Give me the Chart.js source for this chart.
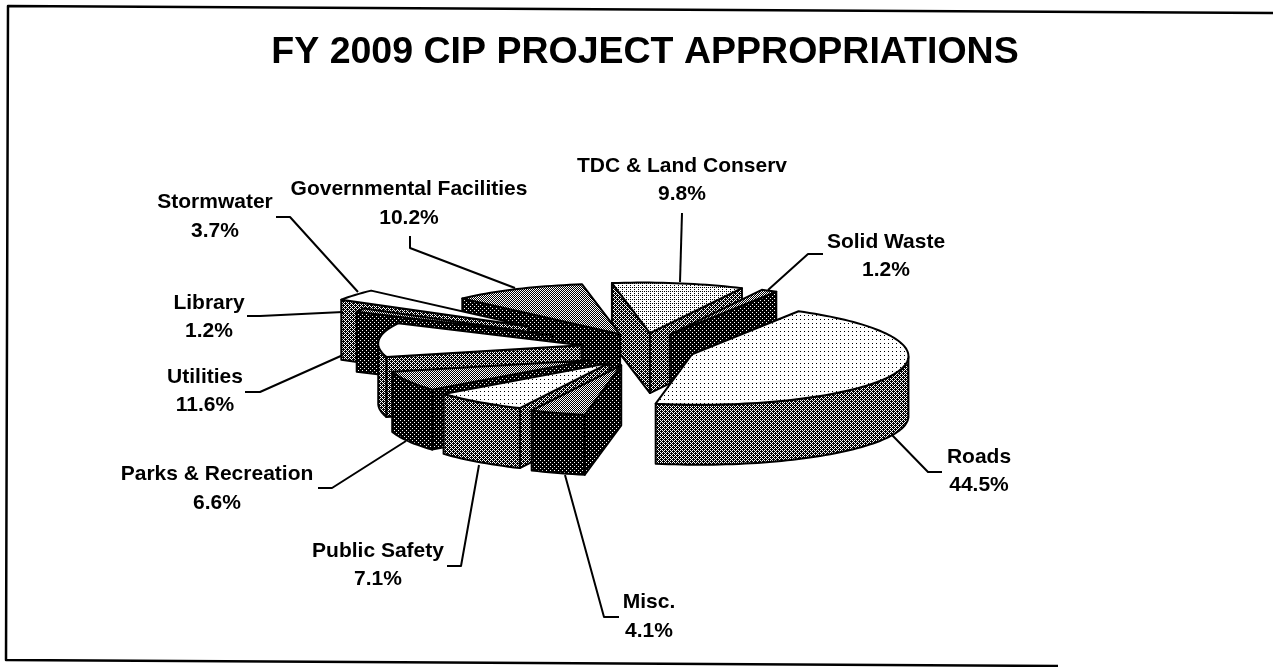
<!DOCTYPE html>
<html lang="en">
<head>
    <meta charset="UTF-8">
    <title>FY 2009 CIP Project Appropriations</title>
    <script src="https://cdn.jsdelivr.net/npm/chart.js@4.4.2/dist/chart.umd.min.js"></script>
    <style>
        html, body { margin: 0; background: #fff; overflow: hidden; }
        canvas { display: block; }
    </style>
</head>
<body>
    <canvas id="pie" width="1273" height="667"></canvas>

    <script>
        // --- Data ---
        const chartTitle = 'FY 2009 CIP PROJECT APPROPRIATIONS';
        const categories = ['TDC & Land Conserv', 'Solid Waste', 'Roads', 'Misc.', 'Public Safety',
            'Parks & Recreation', 'Utilities', 'Library', 'Stormwater', 'Governmental Facilities'];
        const appropriations = [9.8, 1.2, 44.5, 4.1, 7.1, 6.6, 11.6, 1.2, 3.7, 10.2];

        // --- Look of the slices (share of white in the dither) ---
        const topShade = [0.81, 0.5, 0.88, 0.5, 0.88, 0.5, 1, 0.5, 1, 0.5];
        const wallShade = [0.375, 0.125, 0.375, 0.125, 0.375, 0.125, 0.375, 0.125, 0.375, 0.125];

        // --- Fake 3D: the library draws a flat pie, this squashes and skews it ---
        const pieRadius = 200;
        const pieCentre = { x: 642, y: 347 };
        const skew = { a: 1.065, b: -0.035, c: 0.19, d: 0.25 };
        const wallHeight = 60;
        // per slice pull-out, perspective size and screen nudge
        const explode = [56, 56, 56, 56, 56, 56, 56, 94, 130, 56];
        const perspective = [1, 1, 1, 1, 1, 0.95, 0.94, 1, 1, 1];
        const nudge = [[0, 0], [0, 0], [-7, 2], [-3, 5], [4, 5], [1, 7], [0, 0], [0, 0], [0, 0], [7, 0]];

        // --- Callouts: [centre x, first line y, second line y] and leader polyline ---
        const labelSpots = [[682, 166, 194], [886, 242, 270], [979, 457, 485], [649, 602, 631], [378, 551, 579],
            [217, 474, 503], [205, 377, 405], [209, 303, 331], [215, 202, 231], [409, 189, 218]];
        const leaders = [
            [[682, 213], [680, 282]],
            [[823, 254], [808, 254], [768, 290]],
            [[942, 472], [928, 472], [892, 435]],
            [[619, 617], [604, 617], [565, 475]],
            [[447, 566], [461, 566], [479, 465]],
            [[318, 488], [332, 488], [406, 441]],
            [[245, 392], [260, 392], [343, 355]],
            [[247, 316], [260, 316], [343, 312]],
            [[276, 217], [290, 217], [358, 292]],
            [[410, 236], [410, 248], [515, 288]]
        ];
        const frame = [[1273, 13], [8, 6], [6, 660], [1058, 666]];

        const font = '"Liberation Sans", Arial, sans-serif';

        // 4x4 ordered dither, gives the scanned halftone look
        function dither(level) {
            const bayer = [0, 8, 2, 10, 12, 4, 14, 6, 3, 11, 1, 9, 15, 7, 13, 5];
            const tile = document.createElement('canvas');
            tile.width = tile.height = 4;
            const t = tile.getContext('2d');
            t.fillStyle = '#fff';
            t.fillRect(0, 0, 4, 4);
            t.fillStyle = '#000';
            bayer.forEach((v, i) => {
                if (v >= level * 16) t.fillRect(i % 4, Math.floor(i / 4), 1, 1);
            });
            return t.createPattern(tile, 'repeat');
        }

        const topPatterns = topShade.map(dither);
        const wallPatterns = wallShade.map(dither);

        // Slice offset in flat pie space, along its middle angle
        function sliceOffset(arc, i) {
            const mid = (arc.startAngle + arc.endAngle) / 2;
            return { u: Math.cos(mid) * explode[i], v: Math.sin(mid) * explode[i] };
        }

        function project(u, v, i) {
            return {
                x: pieCentre.x + skew.a * u + skew.c * v + nudge[i][0],
                y: pieCentre.y + skew.b * u + skew.d * v + nudge[i][1]
            };
        }

        function sliceOutline(arc, i) {
            const off = sliceOffset(arc, i);
            const apex = project(off.u, off.v, i);
            const rim = [];
            const radius = arc.outerRadius * perspective[i];
            const steps = Math.max(2, Math.ceil((arc.endAngle - arc.startAngle) / 0.03));
            for (let s = 0; s <= steps; s++) {
                const a = arc.startAngle + (arc.endAngle - arc.startAngle) * s / steps;
                rim.push(project(off.u + Math.cos(a) * radius, off.v + Math.sin(a) * radius, i));
            }
            return { apex, rim };
        }

        function tracePolygon(ctx, points) {
            ctx.beginPath();
            points.forEach((p, i) => (i ? ctx.lineTo(p.x, p.y) : ctx.moveTo(p.x, p.y)));
            ctx.closePath();
        }

        function drawWall(ctx, strip, pattern) {
            const down = strip.slice().reverse().map(p => ({ x: p.x, y: p.y + wallHeight }));
            tracePolygon(ctx, strip.concat(down));
            ctx.fillStyle = pattern;
            ctx.fill();
            ctx.stroke();
        }

        // A face shows if its outward normal points down the screen
        function facesViewer(p, q, inside) {
            let nx = q.y - p.y;
            let ny = p.x - q.x;
            if (nx * (inside.x - p.x) + ny * (inside.y - p.y) > 0) { nx = -nx; ny = -ny; }
            return ny > 0.001;
        }

        function drawWalls(ctx, arc, i) {
            const pattern = wallPatterns[i];
            const { apex, rim } = sliceOutline(arc, i);
            const middle = rim[Math.floor(rim.length / 2)];
            const inside = { x: (apex.x + middle.x) / 2, y: (apex.y + middle.y) / 2 };
            const first = rim[0];
            const last = rim[rim.length - 1];
            if (facesViewer(apex, first, inside)) drawWall(ctx, [apex, first], pattern);
            if (facesViewer(apex, last, inside)) drawWall(ctx, [apex, last], pattern);
            let strip = [];
            for (let s = 0; s < rim.length - 1; s++) {
                if (facesViewer(rim[s], rim[s + 1], apex)) {
                    if (!strip.length) strip.push(rim[s]);
                    strip.push(rim[s + 1]);
                } else if (strip.length) {
                    drawWall(ctx, strip, pattern);
                    strip = [];
                }
            }
            if (strip.length) drawWall(ctx, strip, pattern);
        }

        const pie3d = {
            id: 'pie3d',
            beforeDatasetDraw(chart) {
                const ctx = chart.ctx;
                const arcs = chart.getDatasetMeta(0).data;
                // back slices first, going by the middle of the rim
                const depth = k => {
                    const o = sliceOutline(arcs[k], k);
                    return o.rim[Math.floor(o.rim.length / 2)].y;
                };
                const order = arcs.map((arc, i) => i).sort((i, j) => depth(i) - depth(j));
                ctx.save();
                ctx.lineWidth = 2;
                ctx.lineJoin = 'round';
                ctx.strokeStyle = '#000';
                order.forEach(i => {
                    const arc = arcs[i];
                    drawWalls(ctx, arc, i);

                    const off = sliceOffset(arc, i);
                    const k = perspective[i];
                    ctx.save();
                    ctx.transform(skew.a, skew.b, skew.c, skew.d, pieCentre.x + nudge[i][0], pieCentre.y + nudge[i][1]);
                    ctx.translate(off.u, off.v);
                    ctx.scale(k, k);
                    ctx.translate(-arc.x, -arc.y);
                    // keep the dither square to the screen
                    topPatterns[i].setTransform(ctx.getTransform().inverse());
                    arc.draw(ctx);
                    ctx.restore();

                    const { apex, rim } = sliceOutline(arc, i);
                    tracePolygon(ctx, [apex].concat(rim));
                    ctx.stroke();
                });
                ctx.restore();
                return false;
            },
            afterDraw(chart) {
                const ctx = chart.ctx;
                ctx.save();
                ctx.strokeStyle = '#000';
                ctx.lineJoin = 'round';

                // frame
                ctx.lineWidth = 2.5;
                ctx.beginPath();
                frame.forEach((p, i) => (i ? ctx.lineTo(p[0], p[1]) : ctx.moveTo(p[0], p[1])));
                ctx.stroke();

                // leader lines
                ctx.lineWidth = 2;
                leaders.forEach(line => {
                    ctx.beginPath();
                    line.forEach((p, i) => (i ? ctx.lineTo(p[0], p[1]) : ctx.moveTo(p[0], p[1])));
                    ctx.stroke();
                });

                // labels
                ctx.fillStyle = '#000';
                ctx.font = 'bold 21px ' + font;
                ctx.textAlign = 'center';
                ctx.textBaseline = 'middle';
                categories.forEach((name, i) => {
                    const spot = labelSpots[i];
                    ctx.fillText(name, spot[0], spot[1]);
                    ctx.fillText(appropriations[i].toFixed(1) + '%', spot[0], spot[2]);
                });
                ctx.restore();
            }
        };

        new Chart(document.getElementById('pie').getContext('2d'), {
            type: 'pie',
            data: {
                labels: categories,
                datasets: [{
                    data: appropriations,
                    backgroundColor: topPatterns,
                    borderWidth: 0
                }]
            },
            options: {
                responsive: false,
                animation: false,
                radius: pieRadius,
                rotation: 0,
                layout: { padding: { left: 17, top: 30 } },
                events: [],
                plugins: {
                    legend: { display: false },
                    tooltip: { enabled: false },
                    title: {
                        display: true,
                        text: chartTitle,
                        color: '#000',
                        padding: 0,
                        font: { family: font, size: 37.5, weight: 'bold' }
                    }
                }
            },
            plugins: [pie3d]
        });
    </script>
</body>
</html>
